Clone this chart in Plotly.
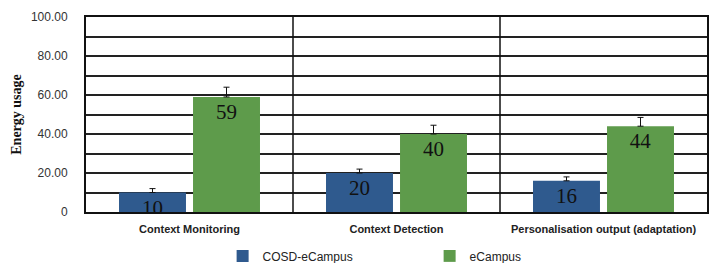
import plotly.graph_objects as go

categories = ["Context Monitoring", "Context Detection", "Personalisation output (adaptation)"]
cosd_values = [10, 20, 16]
ecampus_values = [59, 40, 44]
cosd_err = [2, 2, 2]
ecampus_err = [5, 4.5, 4.5]
series_names = ["COSD-eCampus", "eCampus"]
y_tickvals = [0, 20, 40, 60, 80, 100]
y_ticktext = ["0", "20.00", "40.00", "60.00", "80.00", "100.00"]

blue = "#2F5A8E"
green = "#5E9B4B"

def bar(name, vals, errs, color):
    return go.Bar(
        name=name, x=categories, y=vals,
        marker=dict(color=color, line=dict(width=0)),
        text=[str(v) for v in vals],
        textposition="inside", insidetextanchor="end", textangle=0,
        constraintext="none",
        textfont=dict(family="Liberation Serif, Times New Roman, serif", size=21, color="#111"),
        error_y=dict(type="data", symmetric=False, array=errs,
                     arrayminus=[0] * len(errs), color="#111", thickness=1, width=3),
    )

fig = go.Figure([
    bar(series_names[0], cosd_values, cosd_err, blue),
    bar(series_names[1], ecampus_values, ecampus_err, green),
])

# category divider lines
shapes = []
for i in range(1, len(categories)):
    shapes.append(dict(type="line", xref="x", yref="paper", x0=i - 0.5, x1=i - 0.5,
                       y0=0, y1=1, line=dict(color="#111", width=1.5)))

fig.update_layout(
    width=712, height=263,
    margin=dict(l=86, r=5, t=17, b=51, autoexpand=False),
    paper_bgcolor="white", plot_bgcolor="white",
    barmode="group", bargap=0.285, bargroupgap=0.095,
    shapes=shapes,
    showlegend=True,
    legend=dict(orientation="h", x=0.22, xanchor="left", y=-0.225, yanchor="middle",
                entrywidth=162, entrywidthmode="pixels",
                font=dict(family="Liberation Sans, Arial, sans-serif", size=12, color="#222"),
                traceorder="normal"),
    font=dict(family="Liberation Sans, Arial, sans-serif"),
)
fig.update_xaxes(
    showline=True, linecolor="#111", linewidth=2, mirror=True,
    tickfont=dict(family="Liberation Sans, Arial, sans-serif", size=11, color="#222", weight="bold"),
    ticks="", ticklabelstandoff=6,
)
fig.update_yaxes(
    range=[0, 100], tickvals=y_tickvals, ticktext=y_ticktext,
    showline=True, linecolor="#111", linewidth=2, mirror=True,
    showgrid=True, gridcolor="#222", gridwidth=1.5,
    minor=dict(dtick=10, showgrid=True, gridcolor="#222", gridwidth=1.5, ticks=""),
    tickfont=dict(family="Liberation Sans, Arial, sans-serif", size=12, color="#333"),
    ticks="", ticklabelstandoff=14,
    title=dict(text="Energy usage", standoff=6,
               font=dict(family="Liberation Serif, Times New Roman, serif", size=14, color="#111", weight="bold")),
    zeroline=False,
)

fig.write_html("out.html", config={"displayModeBar": False},
               post_script="document.body.style.margin='0';document.body.style.overflow='hidden';")
